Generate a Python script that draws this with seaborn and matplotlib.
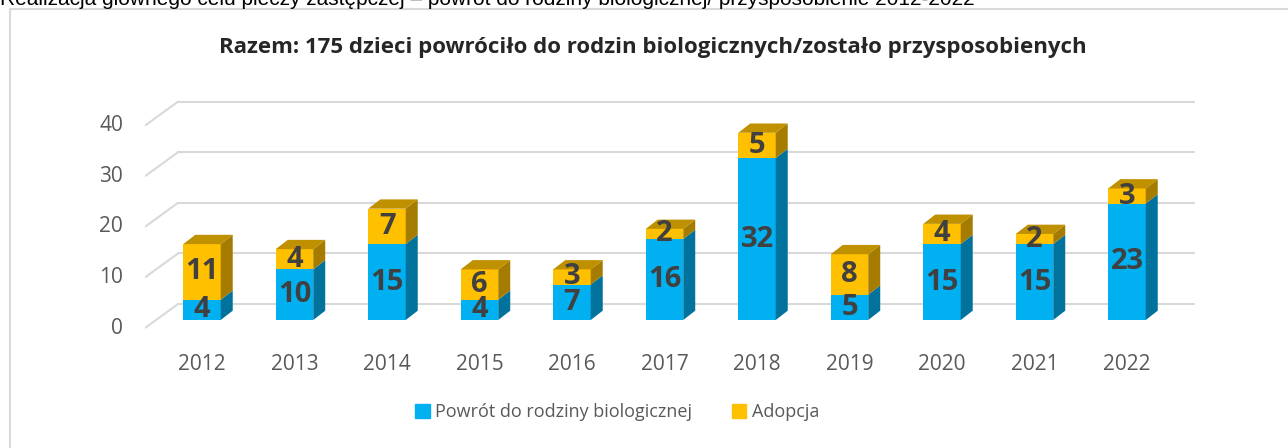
import matplotlib
matplotlib.use("Agg")
import matplotlib.pyplot as plt
from matplotlib.patches import Polygon, Patch, Rectangle
import seaborn as sns
import pandas as pd

years = ["2012", "2013", "2014", "2015", "2016", "2017", "2018", "2019", "2020", "2021", "2022"]
powrot = [4, 10, 15, 4, 7, 16, 32, 5, 15, 15, 23]
adopcja = [11, 4, 7, 6, 3, 2, 5, 8, 4, 2, 3]
yticks = [0, 10, 20, 30, 40]

data = pd.DataFrame({"rok": years, "powrot": powrot, "adopcja": adopcja})
data["razem"] = data["powrot"] + data["adopcja"]

BLUE, BLUE_SIDE = "#00b0f0", "#00729c"
YEL, YEL_SIDE, YEL_TOP = "#ffc000", "#a67c00", "#bf9000"
TXT = "#595959"
GRID = "#d9d9d9"

sns.set_style("white")
plt.rcParams["font.family"] = ["Open Sans", "DejaVu Sans"]

fig = plt.figure(figsize=(12.88, 4.48), dpi=100)
W, H = 1288, 448
ax = fig.add_axes([145 / W, (H - 340) / H, (1195 - 145) / W, 250 / H])

width = 0.405
sns.barplot(data=data, x="rok", y="razem", color=YEL, saturation=1, width=width,
            ax=ax, zorder=3, linewidth=0)
sns.barplot(data=data, x="rok", y="powrot", color=BLUE, saturation=1, width=width,
            ax=ax, zorder=3, linewidth=0)

ax.set_xlim((145 - 202) / 92.5, (1195 - 202) / 92.5)
ax.set_ylim(-20 / 5.06, 230 / 5.06)
for s in ax.spines.values():
    s.set_visible(False)
ax.set_xlabel("")
ax.set_ylabel("")
ax.set_yticks([])
ax.tick_params(axis="x", length=0, pad=10, labelsize=15, labelcolor=TXT)


def px2data(dxp, dyp):
    inv = ax.transData.inverted()
    a = inv.transform((0, 0))
    b = inv.transform((dxp, dyp))
    return b[0] - a[0], b[1] - a[1]


dx, dy = px2data(12, 9.3)
gx, gy_back = px2data(33, 16)
_, gy_front = px2data(0, 8)
x0, x1 = ax.get_xlim()

# grid lines on back wall + slanted floor edge
for v in yticks:
    ax.plot([x0, x0 + gx], [v - gy_front, v + gy_back], color=GRID, lw=1.5, zorder=1,
            solid_capstyle="butt")
    ax.plot([x0 + gx, x1], [v + gy_back, v + gy_back], color=GRID, lw=1.5, zorder=1)
    ax.text(x0 - px2data(22, 0)[0], v - gy_front, str(v), ha="right", va="center",
            fontsize=15, color=TXT)

# 3D side and top faces
for i, row in data.iterrows():
    xr = i + width / 2
    xl = i - width / 2
    segs = [(0, row["powrot"], BLUE_SIDE), (row["powrot"], row["razem"], YEL_SIDE)]
    for b, t, c in segs:
        ax.add_patch(Polygon([(xr, b), (xr + dx, b + dy), (xr + dx, t + dy), (xr, t)],
                             closed=True, fc=c, ec="none", zorder=3))
    t = row["razem"]
    ax.add_patch(Polygon([(xl, t), (xl + dx, t + dy), (xr + dx, t + dy), (xr, t)],
                         closed=True, fc=YEL_TOP, ec="none", zorder=3))
    ax.text(i, row["powrot"] / 2, str(row["powrot"]), ha="center", va="center",
            fontsize=21, fontweight="bold", color="#404040", zorder=5)
    ax.text(i, row["powrot"] + row["adopcja"] / 2, str(row["adopcja"]), ha="center",
            va="center", fontsize=21, fontweight="bold", color="#404040", zorder=5)

fig.text(653 / W, 1 - 47 / H,
         "Razem: 175 dzieci powróciło do rodzin biologicznych/zostało przysposobienych",
         ha="center", va="center", fontsize=16, fontweight="bold", color="#262626")

fig.text(0, 1 - 5 / H,
         "Realizacja głównego celu pieczy zastępczej – powrót do rodziny biologicznej/ przysposobienie 2012-2022",
         ha="left", va="baseline", fontsize=15, color="black",
         family=["Liberation Sans", "DejaVu Sans"])

fig.patches.append(Rectangle((10 / W, -0.1), 2, (H - 9) / H + 0.1, transform=fig.transFigure,
                             fill=False, ec=GRID, lw=1.5))

handles = [Patch(color=BLUE, label="Powrót do rodziny biologicznej"),
           Patch(color=YEL, label="Adopcja")]
fig.legend(handles=handles, loc="center", bbox_to_anchor=(617 / W, 1 - 412 / H), ncol=2,
           frameon=False, fontsize=13, labelcolor=TXT, handlelength=0.8, handleheight=0.8,
           handletextpad=0.3, columnspacing=2.2)

fig.savefig("out.png", dpi=100)
